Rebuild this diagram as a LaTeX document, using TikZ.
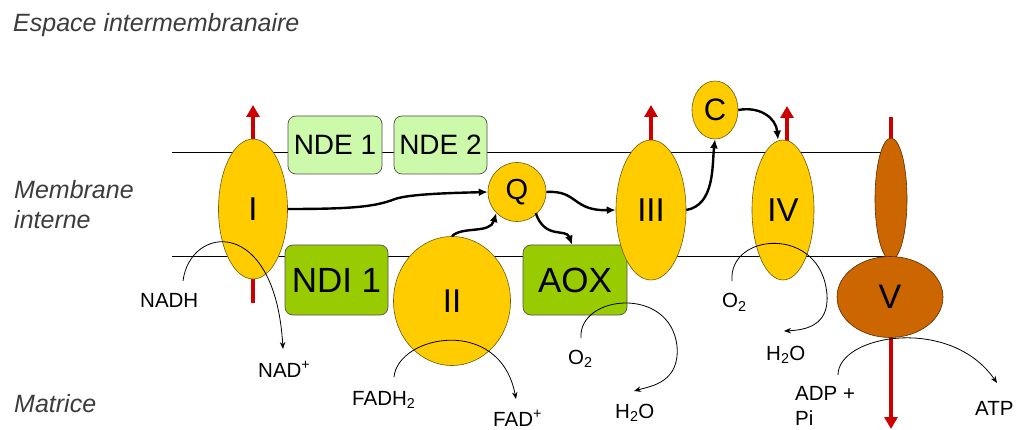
\documentclass[tikz,border=0pt]{standalone}
\usepackage{fontspec}
\setmainfont{Liberation Sans}
\usetikzlibrary{arrows.meta,shapes.geometric}
\definecolor{cyel}{RGB}{255,204,0}
\definecolor{cyelD}{RGB}{110,90,20}
\definecolor{cgreenL}{RGB}{204,250,170}
\definecolor{cgreenD}{RGB}{153,204,0}
\definecolor{cbrown}{RGB}{204,102,0}
\definecolor{cbrD}{RGB}{90,45,0}
\definecolor{cred}{RGB}{204,0,0}
\definecolor{cgray}{RGB}{80,80,80}
\definecolor{ctext}{RGB}{60,60,60}
\begin{document}
\begin{tikzpicture}[x=1pt,y=-1pt,
  yel/.style={ellipse,draw=cyelD,fill=cyel,line width=0.6pt,inner sep=0pt,font=\fontsize{33}{33}\selectfont},
  brn/.style={ellipse,draw=cbrD,fill=cbrown,line width=0.6pt,inner sep=0pt,font=\fontsize{34}{34}\selectfont},
  ndebox/.style={rectangle,rounded corners=8pt,draw=cgray,fill=cgreenL,line width=0.7pt,inner sep=0pt,font=\fontsize{28}{28}\selectfont},
  ndibox/.style={rectangle,rounded corners=8pt,draw=cgray,fill=cgreenD,line width=0.7pt,inner sep=0pt,font=\fontsize{35}{35}\selectfont},
  side/.style={font=\fontsize{25}{25}\selectfont\itshape,text=ctext,anchor=base west,inner sep=0pt},
  chem/.style={font=\fontsize{20.5}{20.5}\selectfont,anchor=base west,inner sep=0pt},
  memb/.style={line width=0.8pt,draw=black},
  protonarr/.style={draw=cred,line width=4pt,-{Triangle[length=12pt,width=13pt]}},
  flow/.style={line width=2.4pt,-{Latex[length=9pt,width=8pt]}},
  react/.style={line width=0.8pt,-{Stealth[length=7pt,width=5.5pt]}}
]
\useasboundingbox (0,0) rectangle (1017,430);

% side labels
\node[side] (esp) at (13,32) {Espace intermembranaire};
\node[side] (mem1) at (14,199) {Membrane};
\node[side] (mem2) at (14,229) {interne};
\node[side] (mat) at (14,412) {Matrice};

% membrane lines
\coordinate (mtl) at (172,152);
\coordinate (mtr) at (891,152);
\coordinate (mbl) at (172,256);
\coordinate (mbr) at (891,256);
\draw[memb] (mtl) -- (mtr);
\draw[memb] (mbl) -- (mbr);

% proton arrows (behind complexes)
\coordinate (rIb) at (253,303);
\coordinate (rIt) at (253,105);
\coordinate (rIIIb) at (651,160);
\coordinate (rIIIt) at (651,105);
\coordinate (rIVb) at (787,160);
\coordinate (rIVt) at (787,106);
\coordinate (rVt) at (891,117);
\coordinate (rVb) at (891,429);
\draw[protonarr] (rIb) -- (rIt);
\draw[protonarr] (rIIIb) -- (rIIIt);
\draw[protonarr] (rIVb) -- (rIVt);
\draw[protonarr] (rVt) -- (rVb);

% complexes
\node[yel,minimum width=69pt,minimum height=140pt] (I) at (253,209) {I};
\node[ndebox,minimum width=94pt,minimum height=58pt] (nde1) at (335,145) {NDE 1};
\node[ndebox,minimum width=93pt,minimum height=58pt] (nde2) at (440.5,145) {NDE 2};
\node[ndibox,minimum width=103pt,minimum height=70pt] (ndi1) at (336.5,280) {NDI 1};
\node[yel,minimum width=117pt,minimum height=129pt] (II) at (452,301) {II};
\node[yel,minimum width=58pt,minimum height=59pt,font=\fontsize{29}{29}\selectfont] (Q) at (517,192) {Q};
\node[ndibox,minimum width=104pt,minimum height=70pt] (aox) at (575,280) {AOX};
\node[yel,minimum width=70pt,minimum height=140pt] (III) at (651,210) {III};
\node[yel,minimum width=46pt,minimum height=58pt,font=\fontsize{31}{31}\selectfont] (C) at (715,110) {C};
\node[yel,minimum width=62pt,minimum height=140pt] (IV) at (783,210) {IV};
\node[brn,minimum width=32pt,minimum height=122pt] (Vs) at (891,199) {};
\node[brn,minimum width=106pt,minimum height=81pt] (V) at (890,297) {V};

% electron flow
\draw[flow] (I.east) .. controls (350,209) and (375,207) .. (395,199)
            .. controls (410,194) and (450,193) .. (Q.west);
\draw[flow] (II.north) .. controls (462,226) and (490,234) .. (Q.south west);
\draw[flow] (Q.east) .. controls (578,190) and (572,211) .. (III.west);
\draw[flow] ([shift={(-2,0)}]Q.south east) .. controls (545,240) and (566,228) .. ([xshift=-3pt]aox.north);
\draw[flow] (III.east) .. controls (715,205) and (712,165) .. (C.south);
\draw[flow] (C.east) .. controls (760,106) and (776,118) .. ([xshift=-5pt]IV.north);

% chemical labels
\node[chem] (nadh) at (140,308) {NADH};
\node[chem] (nad) at (258,377) {NAD\textsuperscript{+}};
\node[chem] (fadh) at (352,405) {FADH\textsubscript{2}};
\node[chem] (fad) at (493,426) {FAD\textsuperscript{+}};
\node[chem] (o2a) at (568,364) {O\textsubscript{2}};
\node[chem] (h2oa) at (615,418) {H\textsubscript{2}O};
\node[chem] (o2b) at (722,308) {O\textsubscript{2}};
\node[chem] (h2ob) at (766,360) {H\textsubscript{2}O};
\node[chem] (adp) at (795,400) {ADP +};
\node[chem] (pi) at (795,425) {Pi};
\node[chem] (atp) at (975,415) {ATP};

% reactions
\coordinate (nadhS) at (183,281);
\coordinate (nadE) at (283,349);
\draw[react] (nadhS) .. controls (190,225) and (275,215) .. (nadE);
\coordinate (fadhS) at (394,377);
\coordinate (fadE) at (516,399);
\draw[react] (fadhS) .. controls (398,335) and (500,315) .. (fadE);
\coordinate (o2aS) at (581,338);
\coordinate (o2aM) at (677,346);
\coordinate (h2oaE) at (634,391);
\draw[react] (o2aS) .. controls (578,295) and (670,285) .. (o2aM)
             .. controls (680,382) and (652,386) .. (h2oaE);
\coordinate (o2bS) at (732,281);
\coordinate (o2bM) at (827,295);
\coordinate (h2obE) at (784,331);
\draw[react] (o2bS) .. controls (728,232) and (822,225) .. (o2bM)
             .. controls (829,326) and (805,330) .. (h2obE);
\coordinate (adpS) at (838,375);
\coordinate (atpE) at (997,383);
\draw[react] (adpS) .. controls (838,335) and (950,315) .. (atpE);
\end{tikzpicture}
\end{document}
